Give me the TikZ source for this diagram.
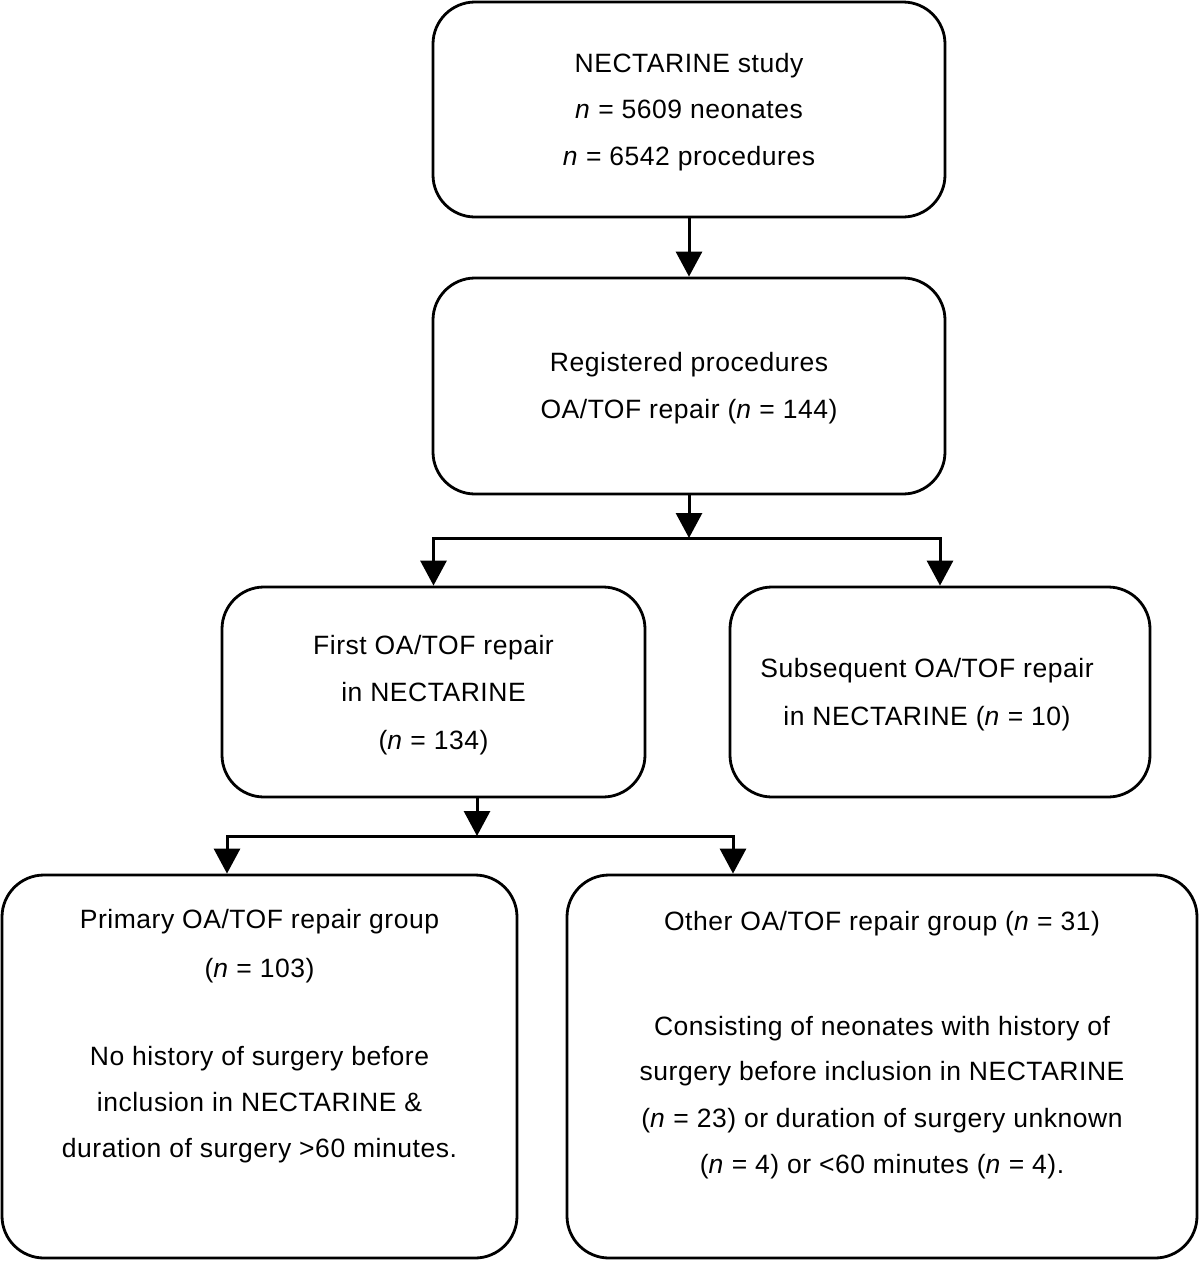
\documentclass[tikz,border=0pt]{standalone}
\usepackage{fontspec}
\setmainfont[LetterSpace=2.0]{Liberation Sans}
\usetikzlibrary{arrows.meta}
\begin{document}
\begin{tikzpicture}[x=1pt,y=-1pt,
  box/.style={draw,line width=2.8pt,rounded corners=42pt,inner sep=0pt},
  conn/.style={line width=3pt,-{Triangle[width=26pt,length=25pt]}},
  txt/.style={anchor=base,inner sep=0pt,font=\fontsize{26.5}{30}\selectfont}]
\useasboundingbox (0,0) rectangle (1200,1261);

% boxes
\node[box,minimum width=512pt,minimum height=215pt] (b1) at (689,109.5) {};
\node[box,minimum width=512pt,minimum height=216pt] (b2) at (689,386) {};
\node[box,minimum width=423pt,minimum height=210pt] (b3) at (433.5,692) {};
\node[box,minimum width=420pt,minimum height=210pt] (b4) at (940,692) {};
\node[box,minimum width=515pt,minimum height=383pt] (b5) at (259.5,1066.5) {};
\node[box,minimum width=630pt,minimum height=383pt] (b6) at (882,1066.5) {};

% texts
\node[txt] (t1a) at (689,72) {NECTARINE study};
\node[txt] (t1b) at (689,118) {\textit{n} = 5609 neonates};
\node[txt] (t1c) at (689,165) {\textit{n} = 6542 procedures};

\node[txt] (t2a) at (689,371) {Registered procedures};
\node[txt] (t2b) at (689,418) {OA/TOF repair (\textit{n} = 144)};

\node[txt] (t3a) at (433.5,654) {First OA/TOF repair};
\node[txt] (t3b) at (433.5,701) {in NECTARINE};
\node[txt] (t3c) at (433.5,749) {(\textit{n} = 134)};

\node[txt] (t4a) at (927,677) {Subsequent OA/TOF repair};
\node[txt] (t4b) at (927,725) {in NECTARINE (\textit{n} = 10)};

\node[txt] (t5a) at (259.5,928) {Primary OA/TOF repair group};
\node[txt] (t5b) at (259.5,977) {(\textit{n} = 103)};
\node[txt] (t5c) at (259.5,1065) {No history of surgery before};
\node[txt] (t5d) at (259.5,1111) {inclusion in NECTARINE \&};
\node[txt] (t5e) at (259.5,1157) {duration of surgery >60 minutes.};

\node[txt] (t6a) at (882,930) {Other OA/TOF repair group (\textit{n} = 31)};
\node[txt] (t6b) at (882,1035) {Consisting of neonates with history of};
\node[txt] (t6c) at (882,1080) {surgery before inclusion in NECTARINE};
\node[txt] (t6d) at (882,1127) {(\textit{n} = 23) or duration of surgery unknown};
\node[txt] (t6e) at (882,1173) {(\textit{n} = 4) or <60 minutes (\textit{n} = 4).};

% connectors
\coordinate (j1) at (689,538);
\coordinate (j2) at (477,836);
\coordinate (a5) at (227,0);
\coordinate (a6) at (733,0);

\draw[conn] (b1.south) -- (b2.north);
\draw[conn] (b2.south) -- (j1);
\draw[conn] (j1) -| (b3.north);
\draw[conn] (j1) -| (b4.north);
\draw[conn] (b3.south -| j2) -- (j2);
\draw[conn] (j2) -| (b5.north -| a5);
\draw[conn] (j2) -| (b6.north -| a6);
\end{tikzpicture}
\end{document}
